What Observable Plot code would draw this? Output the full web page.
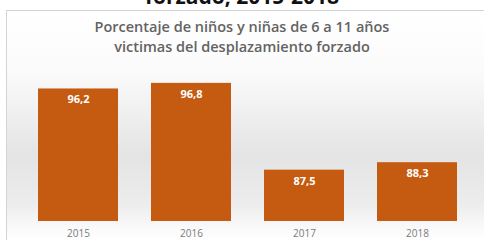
<!DOCTYPE html>
<html>
<head>
<meta charset="utf-8">
<script src="https://cdn.jsdelivr.net/npm/d3@7"></script>
<script src="https://cdn.jsdelivr.net/npm/@observablehq/plot@0.6"></script>
<style>
  html, body { margin: 0; padding: 0; background: #fff; }
  #page { position: relative; width: 484px; height: 240px; overflow: hidden; font-family: "Open Sans", sans-serif; }
  #top { position: absolute; left: 0; width: 484px; top: -17px; text-align: center; font-weight: bold; font-size: 21px; color: #111; line-height: 26px; }
  #frame { position: absolute; left: 6px; top: 10px; width: 490px; height: 240px; border: 1px solid #d4d4d4;
    background: linear-gradient(to bottom, #ffffff 0%, #fbfbfb 25%, #e4e4e4 60%, #ececec 80%, #ffffff 95%); }
  #title { position: absolute; left: 0; width: 484px; top: 17px; text-align: center; font-weight: 600; font-size: 14.5px; color: #636363; line-height: 20px; }
  #chart { position: absolute; left: 0; top: 0; }
</style>
</head>
<body>
<div id="page">
  <div id="top">forzado, 2015-2018</div>
  <div id="frame"></div>
  <div id="title">Porcentaje de niños y niñas de 6 a 11 años<br>victimas del desplazamiento forzado</div>
  <div id="chart"></div>
</div>
<script>
const years = ["2015", "2016", "2017", "2018"];
const values = [96.2, 96.8, 87.5, 88.3];
const labels = ["96,2", "96,8", "87,5", "88,3"];

const data = years.map((y, i) => ({year: y, value: values[i], label: labels[i]}));

const plot = Plot.plot({
  width: 484,
  height: 240,
  marginTop: 53,
  marginBottom: 19,
  marginLeft: 20,
  marginRight: 8,
  style: {background: "transparent", fontFamily: "Open Sans, sans-serif"},
  x: {domain: years, paddingInner: 0.29, paddingOuter: 0.15, label: null, tickSize: 0, tickPadding: 8},
  y: {domain: [82, 100], axis: null},
  marks: [
    Plot.barY(data, {x: "year", y1: 82, y2: "value", fill: "#C55A11"}),
    Plot.text(data, {x: "year", y: "value", text: "label", dy: 11, fill: "#fff", fontWeight: "bold", fontSize: 11}),
    Plot.axisX({tickSize: 0, tickPadding: 8, fontSize: 10, color: "#7a7a7a", label: null})
  ]
});
document.getElementById("chart").appendChild(plot);
</script>
</body>
</html>
